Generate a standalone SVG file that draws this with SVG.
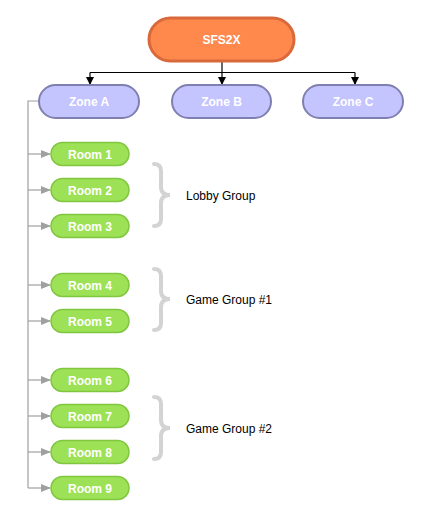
<svg xmlns="http://www.w3.org/2000/svg" width="425" height="523" viewBox="0 0 425 523">
<style>
.root{fill:#FF884D;stroke:#D9693A;stroke-width:3}
.zone{fill:#C4C4FF;stroke:#8080B0;stroke-width:2}
.room{fill:#9DE256;stroke:#80C640;stroke-width:1.5}
.lbl{font-family:"Liberation Sans",Arial,sans-serif;font-weight:bold;fill:#fff;text-anchor:middle;font-size:12px}
.grp{font-family:"Liberation Sans",Arial,sans-serif;fill:#000;font-size:12px}
.blk{stroke:#000;stroke-width:1.2;fill:none}
.gry{stroke:#A0A0A0;stroke-width:1.2;fill:none}
.brace{stroke:#D3D3D3;stroke-width:4;fill:none;stroke-linecap:round}
</style>
<defs>
<marker id="ab" markerWidth="8" markerHeight="8" refX="7" refY="4" orient="auto" markerUnits="userSpaceOnUse"><path d="M0,0 L8,4 L0,8 Z" fill="#000"/></marker>
<marker id="ag" markerWidth="10" markerHeight="8" refX="9" refY="4" orient="auto" markerUnits="userSpaceOnUse"><path d="M0,0 L10,4 L0,8 Z" fill="#A0A0A0"/></marker>
</defs>
<g id="connectors">
<path class="blk" d="M222,61 V72.5"/>
<path class="blk" d="M90,72.5 H355"/>
<path class="blk" d="M90,72.5 V84" marker-end="url(#ab)"/>
<path class="blk" d="M222,72.5 V84" marker-end="url(#ab)"/>
<path class="blk" d="M355,72.5 V84" marker-end="url(#ab)"/>
<path class="gry" d="M39,101 H28 V488"/>
<path class="gry" d="M28,154 H50" marker-end="url(#ag)"/>
<path class="gry" d="M28,190 H50" marker-end="url(#ag)"/>
<path class="gry" d="M28,226 H50" marker-end="url(#ag)"/>
<path class="gry" d="M28,285 H50" marker-end="url(#ag)"/>
<path class="gry" d="M28,321 H50" marker-end="url(#ag)"/>
<path class="gry" d="M28,380 H50" marker-end="url(#ag)"/>
<path class="gry" d="M28,416 H50" marker-end="url(#ag)"/>
<path class="gry" d="M28,452 H50" marker-end="url(#ag)"/>
<path class="gry" d="M28,488 H50" marker-end="url(#ag)"/>
</g>
<g id="sfs2x"><rect class="root" x="149" y="18" width="145" height="43" rx="21.5"/><text class="lbl" x="221.5" y="44">SFS2X</text></g>
<g id="zoneA"><rect class="zone" x="39" y="85" width="100" height="33" rx="16.5"/><text class="lbl" x="89" y="106">Zone A</text></g>
<g id="zoneB"><rect class="zone" x="172" y="85" width="99" height="33" rx="16.5"/><text class="lbl" x="221.5" y="106">Zone B</text></g>
<g id="zoneC"><rect class="zone" x="303" y="85" width="100" height="33" rx="16.5"/><text class="lbl" x="353" y="106">Zone C</text></g>
<g id="room1"><rect class="room" x="51" y="142.5" width="78" height="23" rx="11.5"/><text class="lbl" x="90" y="158.5">Room 1</text></g>
<g id="room2"><rect class="room" x="51" y="178.5" width="78" height="23" rx="11.5"/><text class="lbl" x="90" y="194.5">Room 2</text></g>
<g id="room3"><rect class="room" x="51" y="214.5" width="78" height="23" rx="11.5"/><text class="lbl" x="90" y="230.5">Room 3</text></g>
<g id="room4"><rect class="room" x="51" y="273.5" width="78" height="23" rx="11.5"/><text class="lbl" x="90" y="289.5">Room 4</text></g>
<g id="room5"><rect class="room" x="51" y="309.5" width="78" height="23" rx="11.5"/><text class="lbl" x="90" y="325.5">Room 5</text></g>
<g id="room6"><rect class="room" x="51" y="368.5" width="78" height="23" rx="11.5"/><text class="lbl" x="90" y="384.5">Room 6</text></g>
<g id="room7"><rect class="room" x="51" y="404.5" width="78" height="23" rx="11.5"/><text class="lbl" x="90" y="420.5">Room 7</text></g>
<g id="room8"><rect class="room" x="51" y="440.5" width="78" height="23" rx="11.5"/><text class="lbl" x="90" y="456.5">Room 8</text></g>
<g id="room9"><rect class="room" x="51" y="476.5" width="78" height="23" rx="11.5"/><text class="lbl" x="90" y="492.5">Room 9</text></g>
<g id="lobby">
<path class="brace" d="M154,164 Q161,164 161,171 L161,187 Q161,195 170,195 Q161,195 161,203 L161,219 Q161,226 154,226"/>
<text class="grp" x="186" y="200">Lobby Group</text>
</g>
<g id="game1">
<path class="brace" d="M154,269 Q161,269 161,276 L161,291 Q161,299 170,299 Q161,299 161,307 L161,323 Q161,330 154,330"/>
<text class="grp" x="186" y="304">Game Group #1</text>
</g>
<g id="game2">
<path class="brace" d="M154,397 Q161,397 161,404 L161,420 Q161,428 170,428 Q161,428 161,436 L161,452 Q161,459 154,459"/>
<text class="grp" x="186" y="433">Game Group #2</text>
</g>
</svg>
